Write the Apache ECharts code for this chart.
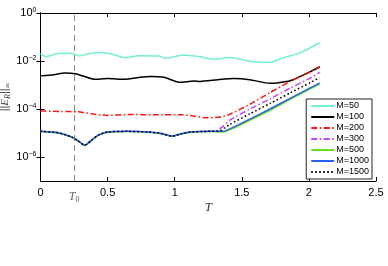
<!DOCTYPE html>
<html>
<head>
<meta charset="utf-8">
<script src="https://cdn.jsdelivr.net/npm/echarts@6/dist/echarts.min.js"></script>
<style>html,body{margin:0;padding:0;background:#fff}#c{width:388px;height:266px}</style>
</head>
<body>
<div id="c"></div>
<script>
// ---- data ----
const names = ['M=50','M=100','M=200','M=300','M=500','M=1000','M=1500'];
const xTicks = [0, 0.5, 1, 1.5, 2, 2.5];
const yTicks = [1, 1e-2, 1e-4, 1e-6];
const T0 = 0.25;

const m50x = [0,0.04,0.13,0.23,0.29,0.36,0.43,0.52,0.63,0.73,0.88,0.93,1.06,1.19,1.29,1.41,1.56,1.71,1.81,1.94,2.08];
const m50y = [0.0204,0.0151,0.0204,0.0209,0.0162,0.0200,0.0224,0.0200,0.0138,0.0166,0.0162,0.0129,0.0178,0.0151,0.0117,0.0141,0.0098,0.0087,0.0138,0.0224,0.0575];

const m100x = [0,0.1,0.18,0.26,0.33,0.40,0.5,0.63,0.72,0.82,0.92,1.04,1.14,1.19,1.32,1.44,1.56,1.71,1.86,2.01,2.08];
const m100y = [2.40e-3,2.69e-3,3.16e-3,2.95e-3,2.24e-3,1.74e-3,1.86e-3,1.74e-3,2.00e-3,2.24e-3,2.09e-3,1.29e-3,1.48e-3,1.41e-3,1.66e-3,1.86e-3,1.66e-3,1.17e-3,1.51e-3,3.63e-3,5.62e-3];

const m200x = [0,0.15,0.28,0.38,0.5,0.65,0.85,1.06,1.15,1.24,1.35,1.41,1.56,1.71,1.86,2.01,2.08];
const m200y = [8.3e-5,7.9e-5,7.6e-5,6.3e-5,5.4e-5,5.9e-5,5.75e-5,5.75e-5,5.0e-5,4.27e-5,4.68e-5,6.0e-5,1.58e-4,4.79e-4,1.41e-3,3.47e-3,6.03e-3];

const m300x = [0,0.13,0.23,0.28,0.33,0.38,0.43,0.5,0.65,0.8,0.9,0.98,1.05,1.12,1.25,1.31,1.36,1.41,1.56,1.71,1.86,2.01,2.08];
const m300y = [1.17e-5,1.02e-5,6.9e-6,4.7e-6,3.1e-6,5.0e-6,8.1e-6,1.10e-5,1.17e-5,1.10e-5,9.5e-6,7.4e-6,9.3e-6,1.10e-5,1.17e-5,1.26e-5,1.9e-5,3.4e-5,1.0e-4,2.63e-4,7.4e-4,1.95e-3,3.39e-3];

const m500x = [0,0.13,0.23,0.28,0.33,0.38,0.43,0.5,0.65,0.8,0.9,0.98,1.05,1.12,1.25,1.36,1.45,1.56,1.71,1.86,2.01,2.08];
const m500y = [1.15e-5,1.0e-5,6.8e-6,4.6e-6,3.0e-6,4.9e-6,8.0e-6,1.08e-5,1.15e-5,1.08e-5,9.3e-6,7.3e-6,9.1e-6,1.08e-5,1.15e-5,1.1e-5,1.7e-5,3.4e-5,8.9e-5,2.5e-4,6.9e-4,1.1e-3];

const m1000x = [0,0.13,0.23,0.28,0.33,0.38,0.43,0.5,0.65,0.8,0.9,0.98,1.05,1.12,1.25,1.36,1.45,1.56,1.71,1.86,2.01,2.08];
const m1000y = [1.17e-5,1.02e-5,6.9e-6,4.7e-6,3.1e-6,5.0e-6,8.1e-6,1.10e-5,1.17e-5,1.10e-5,9.5e-6,7.4e-6,9.3e-6,1.10e-5,1.17e-5,1.17e-5,1.9e-5,3.8e-5,1.0e-4,2.75e-4,7.6e-4,1.2e-3];

const m1500x = [0,0.13,0.23,0.28,0.33,0.38,0.43,0.5,0.65,0.8,0.9,0.98,1.05,1.12,1.25,1.33,1.41,1.56,1.71,1.86,2.01,2.08];
const m1500y = [1.17e-5,1.02e-5,6.9e-6,4.7e-6,3.1e-6,5.0e-6,8.1e-6,1.10e-5,1.17e-5,1.10e-5,9.5e-6,7.4e-6,9.3e-6,1.10e-5,1.17e-5,1.2e-5,2.29e-5,6.3e-5,1.70e-4,4.68e-4,1.26e-3,2.04e-3];

const seriesX = [m50x,m100x,m200x,m300x,m500x,m1000x,m1500x];
const seriesY = [m50y,m100y,m200y,m300y,m500y,m1000y,m1500y];

// ---- styles ----
const colors = ['#72f0d2','#000000','#ff1414','#c044ff','#66e01c','#2a5ff0','#000000'];
const dashDot = [6,2.5,1.5,2.5];
const types = ['solid','solid',dashDot,dashDot,'solid','solid',[1.6,2.4]];

const zip = (xs, ys) => xs.map((x,i) => [x, ys[i]]);
const FONT = 'Liberation Sans, Arial, sans-serif';

const series = names.map((n,i) => ({
  name: n,
  type: 'line',
  data: zip(seriesX[i], seriesY[i]),
  showSymbol: false,
  symbol: 'none',
  smooth: 0.2,
  z: 2 + i,
  lineStyle: { color: colors[i], width: 1.5, type: types[i] },
  itemStyle: { color: colors[i] },
  animation: false
}));
series[0].markLine = {
  silent: true, symbol: 'none', animation: false,
  data: [{ xAxis: T0 }],
  lineStyle: { color: '#888', width: 1, type: [6,4] },
  label: {
    show: true, position: 'start', distance: 9,
    formatter: '{t|T}{s|0}',
    rich: {
      t: { fontFamily: 'Liberation Serif, serif', fontStyle: 'italic', fontSize: 12, color: '#666' },
      s: { fontFamily: 'Liberation Serif, serif', fontSize: 8, color: '#666', verticalAlign: 'bottom', padding: [6,0,0,0] }
    }
  }
};

const supFmt = v => {
  const e = Math.round(Math.log10(v));
  return '10{s|' + (e < 0 ? '\u2212' + (-e) : e) + '}';
};

const option = {
  backgroundColor: '#fff',
  animation: false,
  grid: { left: 40.5, right: 12, top: 13, bottom: 85, containLabel: false, outerBoundsMode: 'none' },
  legend: {
    orient: 'vertical', right: 16, top: 99,
    data: names,
    itemWidth: 23, itemHeight: 10, itemGap: 1,
    padding: [2,3,2,4],
    backgroundColor: '#fff', borderColor: '#222', borderWidth: 1,
    itemStyle: { opacity: 0 },
    textStyle: { fontFamily: FONT, fontSize: 9, color: '#000', lineHeight: 10, padding: [0,0,0,-3] }
  },
  xAxis: [{
    type: 'value', min: 0, max: 2.5, interval: 0.5,
    name: 'T', nameLocation: 'middle', nameGap: 20, nameMoveOverlap: false,
    nameTextStyle: { fontFamily: 'Liberation Serif, serif', fontStyle: 'italic', fontSize: 13, color: '#333' },
    axisLine: { lineStyle: { color: '#000', width: 1 } },
    axisTick: { inside: true, length: 4, lineStyle: { color: '#000' } },
    axisLabel: { fontFamily: FONT, fontSize: 11, color: '#000', margin: 6 },
    splitLine: { show: false }
  }, {
    type: 'value', min: 0, max: 2.5, interval: 0.5, position: 'top',
    axisLine: { lineStyle: { color: '#000', width: 1 } },
    axisTick: { inside: true, length: 4, lineStyle: { color: '#000' } },
    axisLabel: { show: false }, splitLine: { show: false }
  }],
  yAxis: [{
    type: 'log', logBase: 10, min: 1e-7, max: 1,
    name: '||{e|E}{b|R}||{b|\u221e}', nameLocation: 'middle', nameGap: 29, nameRotate: 90, nameMoveOverlap: false,
    nameTextStyle: { fontFamily: FONT, fontSize: 11, color: '#444',
      rich: {
        e: { fontFamily: 'Liberation Serif, serif', fontStyle: 'italic', fontSize: 11, color: '#444' },
        b: { fontFamily: 'Liberation Serif, serif', fontStyle: 'italic', fontSize: 8, color: '#444', verticalAlign: 'bottom', padding: [5,0,0,0] }
      }
    },
    axisLine: { lineStyle: { color: '#000', width: 1 } },
    axisTick: { inside: true, length: 4, customValues: yTicks, lineStyle: { color: '#000' } },
    axisLabel: {
      customValues: yTicks, formatter: supFmt, fontFamily: FONT, fontSize: 11, color: '#000', margin: 4,
      rich: { s: { fontFamily: FONT, fontSize: 7, color: '#000', verticalAlign: 'top', padding: [0,0,6,0] } }
    },
    splitLine: { show: false }, minorTick: { show: false }
  }, {
    type: 'log', logBase: 10, min: 1e-7, max: 1, position: 'right',
    axisLine: { lineStyle: { color: '#000', width: 1 } },
    axisTick: { inside: true, length: 4, customValues: yTicks, lineStyle: { color: '#000' } },
    axisLabel: { show: false }, splitLine: { show: false }
  }],
  series: series
};

const chart = echarts.init(document.getElementById('c'), null, { renderer: 'canvas' });
chart.setOption(option);
</script>
</body>
</html>
